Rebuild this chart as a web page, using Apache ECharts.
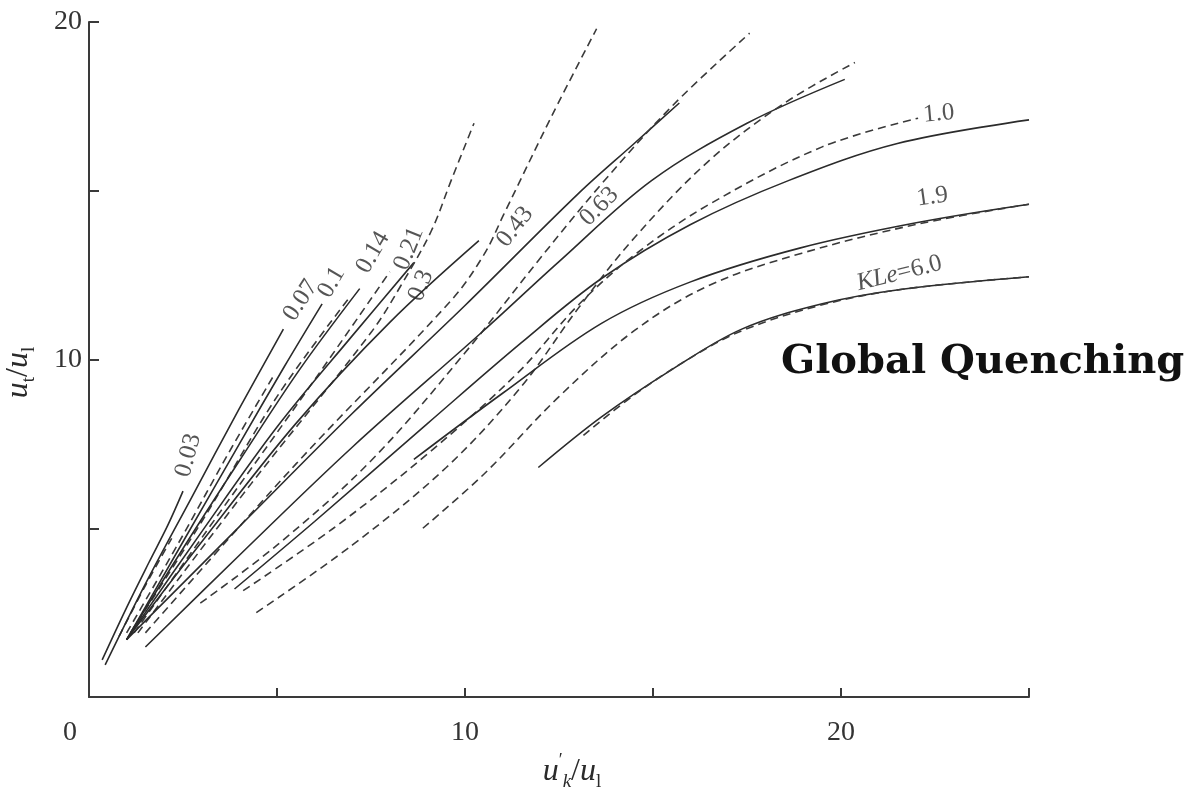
<!DOCTYPE html>
<html>
<head>
<meta charset="utf-8">
<script src="https://cdn.jsdelivr.net/npm/echarts@6/dist/echarts.min.js"></script>
<style>
  html, body { margin: 0; padding: 0; background: #ffffff; }
  #chart { width: 1195px; height: 797px; }
</style>
</head>
<body>
<div id="chart"></div>
<script>
// Turbulent burning velocity ratio u_t/u_l against u'_k/u_l, one family per KLe.
const kleLevels = ['0.03', '0.07', '0.1', '0.14', '0.21', '0.3', '0.43', '0.63', '1.0', '1.9', '6.0'];

// Solid curves, [u'_k/u_l, u_t/u_l]
const solid003 = [[0.35, 1.1], [1.0, 2.65], [1.6, 4.0], [2.1, 5.1], [2.5, 6.1]];
const solid007 = [[0.43, 0.95], [1.5, 3.35], [2.7, 5.85], [4.0, 8.55], [5.17, 10.9]];
const solid010 = [[1.0, 1.7], [2.5, 4.6], [4.0, 7.5], [5.2, 9.8], [6.2, 11.65]];
const solid014 = [[1.0, 1.7], [2.5, 4.4], [4.0, 7.0], [5.6, 9.7], [7.2, 12.1]];
const solid021 = [[1.0, 1.7], [3.0, 4.9], [5.0, 8.0], [7.0, 10.7], [8.64, 12.87]];
const solid030 = [[1.0, 1.7], [3.0, 4.6], [5.5, 8.1], [8.0, 11.1], [10.37, 13.52]];
const solid043 = [[1.0, 1.7], [4.0, 5.05], [7.0, 8.4], [10.0, 11.6], [13.0, 14.9], [14.5, 16.4], [15.7, 17.6]];
const solid063 = [[1.5, 1.48], [4.0, 4.2], [7.0, 7.4], [10.5, 10.86], [12.5, 12.9], [14.96, 15.3], [17.5, 17.0], [20.1, 18.3]];
const solid100 = [[3.87, 3.2], [6.0, 5.2], [9.0, 8.1], [11.5, 10.5], [13.63, 12.4], [16.0, 14.0], [18.6, 15.3], [21.5, 16.4], [25.0, 17.1]];
const solid190 = [[8.64, 7.04], [11.0, 9.0], [13.63, 11.07], [16.0, 12.3], [18.9, 13.3], [22.0, 14.05], [25.0, 14.6]];
const solid600 = [[11.95, 6.8], [13.63, 8.3], [15.5, 9.7], [17.36, 10.9], [19.5, 11.65], [21.63, 12.08], [25.0, 12.45]];

// Dashed curves, [u'_k/u_l, u_t/u_l]
const dashed003 = [[0.8, 1.8], [1.5, 3.3], [2.2, 4.7]];
const dashed007 = [[1.0, 1.9], [2.4, 4.6], [3.8, 7.4], [4.9, 9.5]];
const dashed010 = [[1.1, 1.9], [3.0, 5.2], [5.0, 8.9], [6.9, 11.8]];
const dashed014 = [[1.2, 1.9], [3.5, 5.5], [6.0, 9.4], [8.0, 12.6]];
const dashed021 = [[1.3, 1.9], [4.3, 6.3], [7.5, 10.8], [8.3, 12.2], [9.1, 13.8], [9.63, 15.3], [10.24, 17.0]];
const dashed030 = [[1.5, 1.9], [5.5, 6.9], [9.63, 11.75], [10.5, 13.1], [11.04, 14.32], [12.3, 17.2], [13.5, 19.8]];
const dashed043 = [[2.96, 2.78], [5.0, 4.5], [7.5, 7.0], [10.0, 10.2], [12.0, 13.0], [13.63, 15.2], [15.5, 17.5], [17.57, 19.67]];
const dashed063 = [[4.45, 2.5], [7.0, 4.5], [9.5, 6.8], [11.5, 9.2], [13.0, 11.5], [14.5, 13.6], [16.5, 15.9], [18.5, 17.6], [20.37, 18.8]];
const dashed100 = [[4.1, 3.15], [6.5, 5.0], [9.0, 7.2], [11.4, 9.6], [13.0, 11.6], [14.51, 13.1], [16.5, 14.6], [19.5, 16.3], [22.05, 17.15]];
const dashed190 = [[8.88, 5.0], [10.5, 6.6], [12.5, 8.9], [14.51, 10.86], [16.5, 12.2], [18.96, 13.15], [22.08, 14.02], [25.0, 14.6]];
const dashed600 = [[13.15, 7.75], [14.5, 8.95], [16.0, 10.05], [17.36, 10.85], [19.5, 11.62], [21.63, 12.08], [25.0, 12.45]];

// Curve tags: text and anchor in data units
const tagTexts = ['0.03', '0.07', '0.1', '0.14', '0.21', '0.3', '0.43', '0.63', '1.0', '1.9', '{i|KLe}=6.0'];
const tagAnchors = [[2.64, 7.16], [5.63, 11.75], [6.45, 12.28], [7.55, 13.17], [8.51, 13.28], [8.83, 12.19],
                    [11.33, 13.93], [13.57, 14.53], [22.6, 17.28], [22.43, 14.82], [21.55, 12.55]];

// Axis ticks
const xTickLabels = [0, 10, 20];
const yTickLabels = [10, 20];

const solidSets = [solid003, solid007, solid010, solid014, solid021, solid030, solid043, solid063, solid100, solid190, solid600];
const dashedSets = [dashed003, dashed007, dashed010, dashed014, dashed021, dashed030, dashed043, dashed063, dashed100, dashed190, dashed600];

const tagAngles = [75, 57, 60, 60, 68, 68, 52, 45, 5, 8, 14];

const SERIF = 'Liberation Serif';
const INK = '#2b2b2b';

const series = [];
kleLevels.forEach(function (k, i) {
  series.push({
    name: 'KLe ' + k + ' solid',
    type: 'line',
    data: solidSets[i],
    showSymbol: false,
    smooth: 0.35,
    silent: true,
    lineStyle: { color: INK, width: 1.6 }
  });
  series.push({
    name: 'KLe ' + k + ' dashed',
    type: 'line',
    data: dashedSets[i],
    showSymbol: false,
    smooth: 0.35,
    silent: true,
    lineStyle: { color: '#3a3a3a', width: 1.6, type: [8, 5] }
  });
});

series.push({
  name: 'tags',
  type: 'scatter',
  symbolSize: 0,
  silent: true,
  z: 5,
  data: tagTexts.map(function (t, i) {
    return {
      value: tagAnchors[i],
      label: { rotate: tagAngles[i] }
    };
  }),
  label: {
    show: true,
    position: 'inside',
    formatter: function (p) { return tagTexts[p.dataIndex]; },
    fontFamily: SERIF,
    fontSize: 25,
    color: INK,
    rich: { i: { fontFamily: SERIF, fontSize: 25, fontStyle: 'italic', color: INK } }
  }
});

// Rich styles for the axis names (italic u with small sub/superscripts)
const nameRich = {
  i: { fontFamily: SERIF, fontStyle: 'italic', fontSize: 32, color: INK, lineHeight: 40, verticalAlign: 'middle' },
  n: { fontFamily: SERIF, fontSize: 32, color: INK, lineHeight: 40, verticalAlign: 'middle' },
  p: { fontFamily: SERIF, fontSize: 18, color: INK, lineHeight: 40, verticalAlign: 'top' },
  s: { fontFamily: SERIF, fontSize: 19, color: INK, lineHeight: 40, verticalAlign: 'bottom' },
  si: { fontFamily: SERIF, fontStyle: 'italic', fontSize: 19, color: INK, lineHeight: 40, verticalAlign: 'bottom' }
};

const chart = echarts.init(document.getElementById('chart'), null, { renderer: 'canvas' });
chart.setOption({
  animation: false,
  backgroundColor: '#ffffff',
  title: {
    text: 'Global Quenching',
    left: 776,
    top: 338,
    textStyle: { fontFamily: 'DejaVu Serif', fontWeight: 'bold', fontSize: 40, color: '#111111' }
  },
  grid: { left: 89, right: 166, top: 22, bottom: 100, containLabel: false, outerBoundsMode: 'none' },
  xAxis: {
    type: 'value',
    min: 0, max: 25, interval: 5,
    name: "{i|u}{p|′}{si|k}{n|/}{i|u}{s|l}",
    nameLocation: 'middle',
    nameGap: 53,
    nameTextStyle: { padding: [0, 0, 0, 26], rich: nameRich },
    axisLine: { show: true, onZero: false, lineStyle: { color: '#3a3a3a', width: 2 } },
    axisTick: { show: true, inside: true, length: 9, lineStyle: { color: '#3a3a3a', width: 2 } },
    splitLine: { show: false },
    axisLabel: {
      margin: 22,
      fontFamily: SERIF, fontSize: 28, color: '#333333',
      formatter: function (v) {
        if (xTickLabels.indexOf(v) < 0) return '';
        return v === 0 ? '{o|0}' : String(v);
      },
      rich: { o: { fontFamily: SERIF, fontSize: 28, color: '#333333', padding: [0, 38, 0, 0] } }
    }
  },
  yAxis: {
    type: 'value',
    min: 0, max: 20, interval: 5,
    name: "{i|u}{s|t}{n|/}{i|u}{s|l}",
    nameLocation: 'middle',
    nameGap: 50,
    nameRotate: 90,
    nameTextStyle: { padding: [0, 26, 0, 0], rich: nameRich },
    axisLine: { show: true, onZero: false, lineStyle: { color: '#3a3a3a', width: 2 } },
    axisTick: { show: true, inside: true, length: 10, lineStyle: { color: '#3a3a3a', width: 2 } },
    splitLine: { show: false },
    axisLabel: {
      margin: 7,
      fontFamily: SERIF, fontSize: 28, color: '#333333',
      formatter: function (v) { return yTickLabels.indexOf(v) < 0 ? '' : String(v); }
    }
  },
  series: series
});
</script>
</body>
</html>
